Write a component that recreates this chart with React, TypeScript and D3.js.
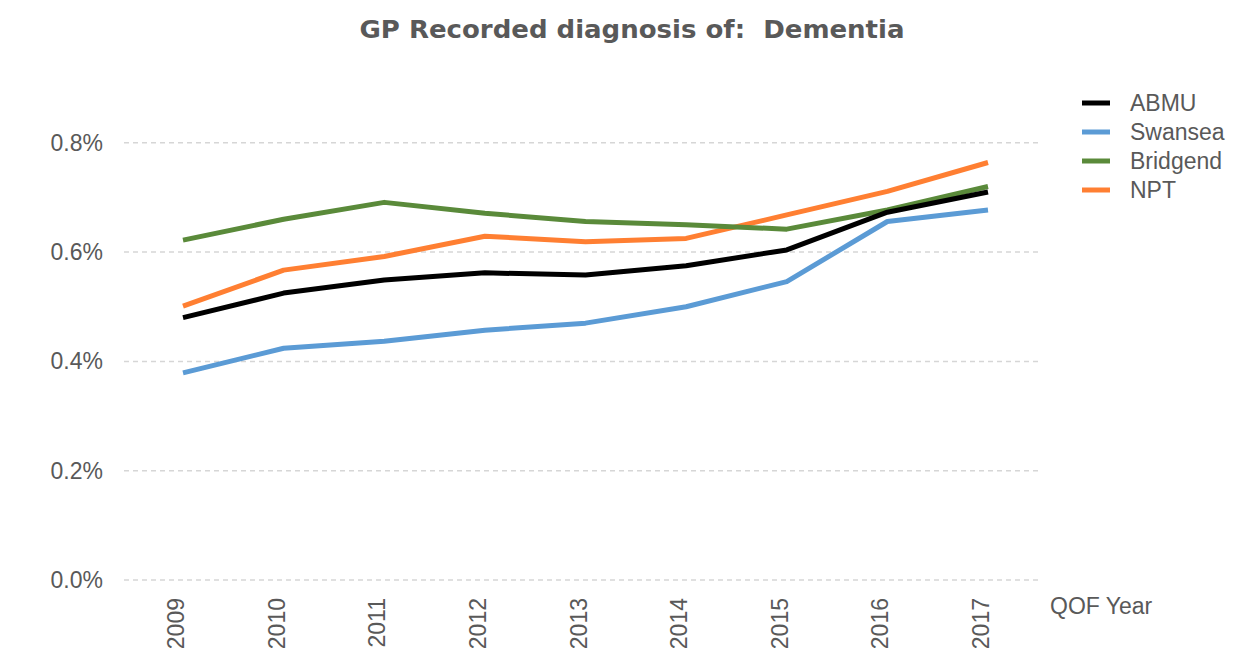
import React from 'react';
import * as d3 from 'd3';

const years = ['2009', '2010', '2011', '2012', '2013', '2014', '2015', '2016', '2017'];
const yTicks = [0, 0.2, 0.4, 0.6, 0.8];

const abmu = [0.48, 0.525, 0.549, 0.562, 0.558, 0.575, 0.604, 0.673, 0.71];
const swansea = [0.379, 0.424, 0.437, 0.457, 0.47, 0.5, 0.546, 0.656, 0.677];
const bridgend = [0.622, 0.66, 0.691, 0.671, 0.656, 0.65, 0.642, 0.677, 0.72];
const npt = [0.501, 0.567, 0.592, 0.629, 0.619, 0.625, 0.668, 0.711, 0.764];

const seriesNames = ['ABMU', 'Swansea', 'Bridgend', 'NPT'];
const seriesColors = ['#000000', '#5b9bd5', '#5a8a3a', '#ff7f32'];
const seriesValues = [abmu, swansea, bridgend, npt];

const W = 1260;
const H = 654;
const textColor = '#595959';

const App = () => {
  const x = d3.scalePoint<string>().domain(years).range([183, 988]);
  const y = d3.scaleLinear().domain([0, 1]).range([580, 33.5]);

  const line = d3
    .line<number>()
    .x((_, i) => x(years[i]) as number)
    .y((d) => y(d));

  // draw order: last series under first, as in the original
  const order = [3, 2, 1, 0];

  return (
    <svg
      width={W}
      height={H}
      style={{ position: 'absolute', left: 0, top: 0, background: '#fff' }}
      fontFamily="'Liberation Sans', Arial, sans-serif"
    >
      <text
        x={632}
        y={38}
        textAnchor="middle"
        fontFamily="'DejaVu Sans Condensed', 'DejaVu Sans', sans-serif"
        fontWeight="bold"
        fontSize={25}
        fill={textColor}
        textLength={545}
        lengthAdjust="spacingAndGlyphs"
      >
        {'GP Recorded diagnosis of:\u00a0 Dementia'}
      </text>

      {/* gridlines + y labels */}
      {yTicks.map((t) => (
        <g key={t}>
          <line
            x1={124}
            x2={1040}
            y1={y(t)}
            y2={y(t)}
            stroke="#d6d6d6"
            strokeWidth={1.5}
            strokeDasharray="5,4"
          />
          <text
            x={103}
            y={y(t)}
            dy="0.35em"
            textAnchor="end"
            fontSize={23}
            fill={textColor}
          >
            {d3.format('.1f')(t) + '%'}
          </text>
        </g>
      ))}

      {/* x labels, rotated */}
      {years.map((yr) => (
        <text
          key={yr}
          transform={`translate(${(x(yr) as number) + 1},598) rotate(-90)`}
          textAnchor="end"
          fontSize={23}
          fill={textColor}
        >
          {yr}
        </text>
      ))}
      <text x={1050} y={614} fontSize={23} fill={textColor}>
        QOF Year
      </text>

      {order.map((i) => (
        <path
          key={seriesNames[i]}
          d={line(seriesValues[i]) || ''}
          fill="none"
          stroke={seriesColors[i]}
          strokeWidth={5}
          strokeLinejoin="round"
        />
      ))}

      {/* legend */}
      {seriesNames.map((name, i) => (
        <g key={name} transform={`translate(1082,${103 + i * 29})`}>
          <line x1={0} x2={28} y1={0} y2={0} stroke={seriesColors[i]} strokeWidth={5} />
          <text x={48} y={0} dy="0.35em" fontSize={23} fill={textColor}>
            {name}
          </text>
        </g>
      ))}
    </svg>
  );
};

export default App;
